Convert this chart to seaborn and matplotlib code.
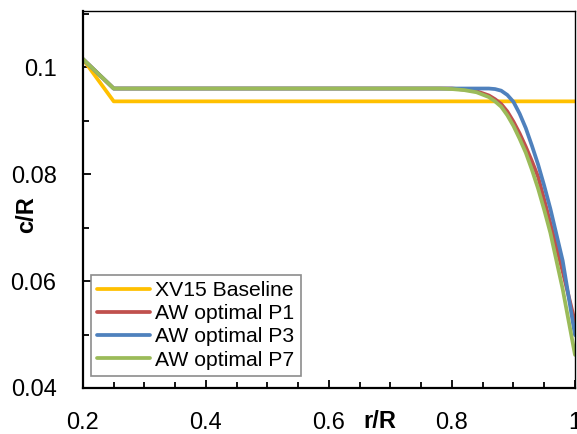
import numpy as np
import pandas as pd
import matplotlib
matplotlib.use("Agg")
import matplotlib.pyplot as plt
from matplotlib.ticker import MultipleLocator, FuncFormatter
import seaborn as sns

# Chord distributions
r_base = [0.2, 0.25, 1.0]
c_base = [0.1015, 0.0936, 0.0936]

r_opt = [0.2, 0.25, 0.5, 0.78, 0.80, 0.82, 0.84, 0.86, 0.87, 0.88, 0.89, 0.90,
         0.91, 0.92, 0.93, 0.94, 0.95, 0.96, 0.98, 1.0]
c_p1 = [0.1015, 0.0960, 0.0960, 0.0960, 0.0960, 0.0958, 0.0955, 0.0947, 0.0940,
        0.0931, 0.0917, 0.0898, 0.0876, 0.0851, 0.0824, 0.0795, 0.0752, 0.0708,
        0.0618, 0.0523]
c_p3 = [0.1015, 0.0960, 0.0960, 0.0960, 0.0960, 0.0960, 0.0960, 0.0960, 0.0959,
        0.0956, 0.0948, 0.0935, 0.0913, 0.0886, 0.0853, 0.0818, 0.0778, 0.0735,
        0.0638, 0.0499]
c_p7 = [0.1015, 0.0960, 0.0960, 0.0960, 0.0959, 0.0957, 0.0953, 0.0944, 0.0936,
        0.0926, 0.0910, 0.0890, 0.0866, 0.0840, 0.0808, 0.0773, 0.0733, 0.0690,
        0.0585, 0.0462]

names = ["XV15 Baseline", "AW optimal P1", "AW optimal P3", "AW optimal P7"]
colors = ["#FFC000", "#C0504D", "#4F81BD", "#9BBB59"]

df = pd.concat([
    pd.DataFrame({"r/R": r_base, "c/R": c_base, "case": names[0]}),
    pd.DataFrame({"r/R": r_opt, "c/R": c_p1, "case": names[1]}),
    pd.DataFrame({"r/R": r_opt, "c/R": c_p3, "case": names[2]}),
    pd.DataFrame({"r/R": r_opt, "c/R": c_p7, "case": names[3]}),
])

sns.set_style("ticks")
plt.rcParams["font.family"] = ["Liberation Sans", "DejaVu Sans"]
plt.rcParams["text.color"] = "black"
plt.rcParams["axes.labelcolor"] = "black"

fig = plt.figure(figsize=(5.77, 4.34), dpi=100)
ax = fig.add_axes([0.1438, 0.106, 0.8527, 0.8687])

sns.lineplot(data=df, x="r/R", y="c/R", hue="case", hue_order=names,
             palette=colors, linewidth=2.7, sort=False, estimator=None, ax=ax)

ax.set_xlim(0.2, 1.0)
ax.set_ylim(0.04, 0.1105)
ax.xaxis.set_major_locator(MultipleLocator(0.2))
ax.xaxis.set_minor_locator(MultipleLocator(0.05))
ax.yaxis.set_major_locator(MultipleLocator(0.02))
ax.yaxis.set_minor_locator(MultipleLocator(0.01))
ax.xaxis.set_major_formatter(FuncFormatter(lambda v, p: "%g" % round(v, 3)))
ax.yaxis.set_major_formatter(FuncFormatter(lambda v, p: "%g" % round(v, 3)))

ax.tick_params(which="both", direction="in", colors="black", labelcolor="black",
               labelsize=17, top=False, right=False, width=1.3)
ax.tick_params(which="major", length=6)
ax.tick_params(which="minor", length=4)
ax.tick_params(axis="x", pad=17)
ax.tick_params(axis="y", pad=19)

for s in ["left", "bottom"]:
    ax.spines[s].set_linewidth(1.6)
for s in ["top", "right"]:
    ax.spines[s].set_linewidth(1.0)
for s in ax.spines.values():
    s.set_color("black")

ax.set_xlabel("r/R", fontsize=17, fontweight="bold")
ax.set_ylabel("c/R", fontsize=17, fontweight="bold")
ax.xaxis.label.set_va("center")
ax.yaxis.label.set_va("center")
ax.xaxis.set_label_coords(0.604, -0.09)
ax.yaxis.set_label_coords(-0.115, 0.459)

leg = ax.legend(loc="lower left", bbox_to_anchor=(0.016, 0.032), borderaxespad=0,
                fontsize=15.2, frameon=True, fancybox=False, framealpha=1,
                edgecolor="#8c8c8c", handlelength=2.5, handletextpad=0.25,
                labelspacing=0.2, borderpad=0.3)
leg.get_frame().set_linewidth(1.2)
for t in leg.get_texts():
    t.set_color("black")

fig.savefig("out.png", dpi=100)
